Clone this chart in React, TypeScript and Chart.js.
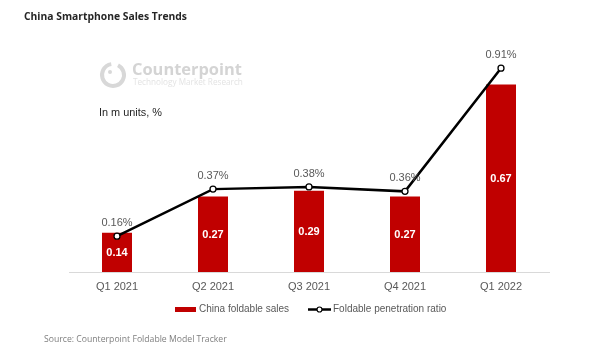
import React, { useEffect, useRef } from "react";
import { Chart, registerables } from "chart.js";

Chart.register(...registerables);

const categories = ["Q1 2021", "Q2 2021", "Q3 2021", "Q4 2021", "Q1 2022"];
const salesValues = [0.14, 0.27, 0.29, 0.27, 0.67];
const ratioValues = [0.16, 0.37, 0.38, 0.36, 0.91];
const salesLabel = "China foldable sales";
const ratioLabel = "Foldable penetration ratio";
const titleText = "China Smartphone Sales Trends";
const unitText = "In m units, %";
const sourceText = "Source: Counterpoint Foldable Model Tracker";

const SANS = '"Liberation Sans", Arial, sans-serif';

function fitFont(ctx: CanvasRenderingContext2D, text: string, weight: string, family: string, target: number) {
  let size = 12;
  ctx.font = `${weight} ${size}px ${family}`;
  const w = ctx.measureText(text).width;
  size = (size * target) / w;
  ctx.font = `${weight} ${size.toFixed(2)}px ${family}`;
}

const decorPlugin = {
  id: "decor",
  afterDatasetsDraw(chart: any) {
    const ctx: CanvasRenderingContext2D = chart.ctx;
    ctx.save();
    // bar value labels
    const barMeta = chart.getDatasetMeta(0);
    ctx.fillStyle = "#ffffff";
    ctx.font = `bold 11px ${SANS}`;
    ctx.textAlign = "center";
    ctx.textBaseline = "middle";
    barMeta.data.forEach((el: any, i: number) => {
      ctx.fillText(salesValues[i].toFixed(2), el.x, (el.y + el.base) / 2 + 1);
    });
    // point labels
    const lineMeta = chart.getDatasetMeta(1);
    ctx.fillStyle = "#595959";
    ctx.font = `11px ${SANS}`;
    lineMeta.data.forEach((el: any, i: number) => {
      ctx.fillText(ratioValues[i].toFixed(2) + "%", el.x, el.y - 13);
    });
    ctx.restore();
  },
  afterDraw(chart: any) {
    const ctx: CanvasRenderingContext2D = chart.ctx;
    ctx.save();
    ctx.textAlign = "left";
    ctx.textBaseline = "middle";

    // title
    ctx.fillStyle = "#262626";
    fitFont(ctx, titleText, "bold", '"Open Sans", sans-serif', 163);
    ctx.fillText(titleText, 24, 17);

    // watermark logo
    ctx.strokeStyle = "#d8d8d8";
    ctx.lineWidth = 4;
    ctx.beginPath();
    ctx.arc(113, 75, 11, -Math.PI * 0.35, Math.PI * 1.45);
    ctx.stroke();
    ctx.fillStyle = "#d8d8d8";
    ctx.beginPath();
    ctx.arc(110, 72, 2, 0, Math.PI * 2);
    ctx.fill();
    ctx.fillStyle = "#d4d4d4";
    fitFont(ctx, "Counterpoint", "bold", '"Open Sans", sans-serif', 110);
    ctx.fillText("Counterpoint", 132, 70);
    ctx.fillStyle = "#e3e3e3";
    fitFont(ctx, "Technology Market Research", "normal", '"Open Sans", sans-serif', 110);
    ctx.fillText("Technology Market Research", 133, 83);

    // unit text
    ctx.fillStyle = "#262626";
    fitFont(ctx, unitText, "normal", SANS, 63);
    ctx.fillText(unitText, 99, 113);

    // legend
    ctx.fillStyle = "#c00000";
    ctx.fillRect(175, 307, 21, 5);
    ctx.fillStyle = "#595959";
    ctx.font = `10px ${SANS}`;
    ctx.fillText(salesLabel, 199, 309.5);
    ctx.strokeStyle = "#000000";
    ctx.lineWidth = 2.5;
    ctx.beginPath();
    ctx.moveTo(308, 309.5);
    ctx.lineTo(331, 309.5);
    ctx.stroke();
    ctx.fillStyle = "#ffffff";
    ctx.lineWidth = 1.2;
    ctx.beginPath();
    ctx.arc(319.5, 309.5, 2.5, 0, Math.PI * 2);
    ctx.fill();
    ctx.stroke();
    ctx.fillStyle = "#595959";
    ctx.fillText(ratioLabel, 333, 309.5);

    // source
    ctx.fillStyle = "#7f7f7f";
    fitFont(ctx, sourceText, "normal", '"Open Sans", sans-serif', 183);
    ctx.fillText(sourceText, 44, 340);
    ctx.restore();
  },
};

export default function App() {
  const ref = useRef<HTMLCanvasElement | null>(null);
  useEffect(() => {
    if (!ref.current) return;
    const chart = new Chart(ref.current, {
      type: "bar",
      data: {
        labels: categories,
        datasets: [
          {
            type: "bar",
            label: salesLabel,
            data: salesValues,
            backgroundColor: "#c00000",
            borderWidth: 0,
            barPercentage: 0.3125,
            categoryPercentage: 1,
            yAxisID: "y",
            order: 2,
          } as any,
          {
            type: "line",
            label: ratioLabel,
            data: ratioValues,
            borderColor: "#000000",
            borderWidth: 2.5,
            pointRadius: 3,
            pointBackgroundColor: "#ffffff",
            pointBorderColor: "#000000",
            pointBorderWidth: 1.3,
            tension: 0,
            yAxisID: "y2",
            order: 1,
          } as any,
        ],
      },
      options: {
        responsive: false,
        animation: false,
        devicePixelRatio: 1,
        layout: { padding: { left: 69, right: 43, top: 48, bottom: 0 } },
        plugins: {
          legend: { display: false },
          tooltip: { enabled: false },
        },
        scales: {
          x: {
            display: true,
            grid: { display: false, drawTicks: false, tickLength: 0 },
            border: { display: true, color: "#d9d9d9", width: 1 },
            ticks: {
              color: "#595959",
              font: { family: SANS, size: 11 },
              padding: 8,
              maxRotation: 0,
            },
            afterFit: (s: any) => {
              s.height = 79;
            },
          },
          y: { display: false, min: 0, max: 0.8 },
          y2: { display: false, min: 0, max: 1.0, position: "right" },
        },
      } as any,
      plugins: [decorPlugin],
    });
    return () => chart.destroy();
  }, []);
  return (
    <div style={{ position: "absolute", left: 0, top: 0, width: 592, height: 351, background: "#fff" }}>
      <canvas ref={ref} width={592} height={351} style={{ display: "block" }} />
    </div>
  );
}
